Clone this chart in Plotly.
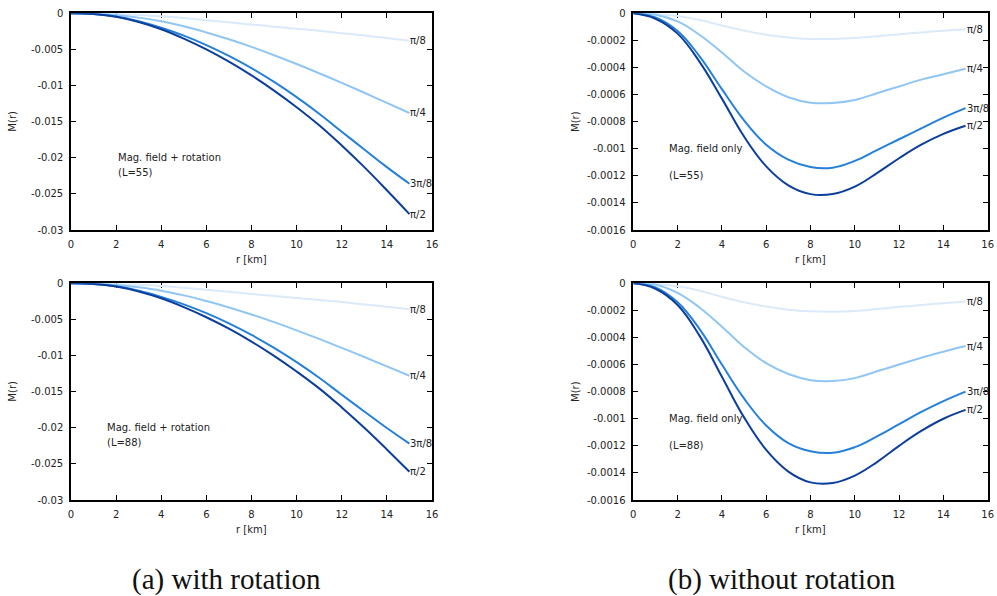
import plotly.graph_objects as go

# Radial grid [km]
r_km = [0, 1, 2, 3, 4, 5, 6, 7, 8, 9, 10, 11, 12, 13, 14, 15]

angle_labels = ["π/8", "π/4", "3π/8", "π/2"]
line_colors = ["#dbeafa", "#90c6f5", "#2580da", "#0c3f9c"]

# (a) with rotation, L=55
rot_L55_pi8 = [0, -0.00002, -0.0001, -0.00022, -0.0004, -0.00066, -0.00095, -0.00125, -0.00155, -0.00185, -0.00215, -0.00243, -0.00275, -0.00308, -0.00343, -0.0038]
rot_L55_pi4 = [0, -0.00005, -0.00025, -0.0006, -0.0011, -0.0018, -0.00265, -0.0036, -0.00465, -0.0058, -0.00702, -0.0083, -0.00963, -0.011, -0.0124, -0.0138]
rot_L55_3pi8 = [0, -0.0001, -0.00045, -0.0011, -0.002, -0.0031, -0.0044, -0.0059, -0.0076, -0.0095, -0.0116, -0.0139, -0.0164, -0.01885, -0.0213, -0.0236]
rot_L55_pi2 = [0, -0.0001, -0.00048, -0.0012, -0.0022, -0.0035, -0.005, -0.0067, -0.0086, -0.0107, -0.013, -0.0155, -0.0183, -0.0213, -0.0245, -0.0278]

# (a) with rotation, L=88
rot_L88_pi8 = [0, -0.00002, -0.000095, -0.00021, -0.00038, -0.000625, -0.0009, -0.00118, -0.00147, -0.00175, -0.00204, -0.0023, -0.0026, -0.00292, -0.00325, -0.0036]
rot_L88_pi4 = [0, -0.00005, -0.00023, -0.00056, -0.00102, -0.00167, -0.00246, -0.00334, -0.00432, -0.00538, -0.00651, -0.0077, -0.00894, -0.01021, -0.01151, -0.0128]
rot_L88_3pi8 = [0, -0.000094, -0.00042, -0.00104, -0.00188, -0.00292, -0.00414, -0.00555, -0.00715, -0.00894, -0.01092, -0.01308, -0.01543, -0.01774, -0.02004, -0.0222]
rot_L88_pi2 = [0, -0.000094, -0.00045, -0.00113, -0.00207, -0.00329, -0.0047, -0.00629, -0.00808, -0.01005, -0.01221, -0.01455, -0.01718, -0.02, -0.023, -0.0261]

# (b) magnetic field only, L=55
mag_L55_pi8 = [0, -0.000005, -0.00002, -0.00005, -0.00009, -0.000128, -0.000158, -0.000178, -0.000189, -0.00019, -0.000183, -0.00017, -0.000155, -0.000141, -0.000129, -0.000118]
mag_L55_pi4 = [0, -0.00001, -0.00006, -0.00016, -0.00029, -0.00043, -0.00054, -0.00062, -0.00066, -0.000662, -0.00064, -0.00059, -0.00054, -0.00049, -0.00045, -0.00041]
mag_L55_3pi8 = [0, -0.00003, -0.00013, -0.00032, -0.00056, -0.00079, -0.00097, -0.00108, -0.001135, -0.00114, -0.00109, -0.00101, -0.00093, -0.00085, -0.00077, -0.0007]
mag_L55_pi2 = [0, -0.00004, -0.00015, -0.00036, -0.00063, -0.00091, -0.00113, -0.00127, -0.001335, -0.001335, -0.00128, -0.00118, -0.00107, -0.00097, -0.00089, -0.00083]

# (b) magnetic field only, L=88
mag_L88_pi8 = [0, -0.000005, -0.000022, -0.000055, -0.0001, -0.00014, -0.000172, -0.000195, -0.000207, -0.00021, -0.000204, -0.00019, -0.000174, -0.00016, -0.000147, -0.000135]
mag_L88_pi4 = [0, -0.00001, -0.00007, -0.00018, -0.00032, -0.00047, -0.00059, -0.00067, -0.000715, -0.000722, -0.0007, -0.00065, -0.0006, -0.00055, -0.000505, -0.000463]
mag_L88_3pi8 = [0, -0.00003, -0.00014, -0.00034, -0.0006, -0.00085, -0.00105, -0.00118, -0.00124, -0.001252, -0.00121, -0.00113, -0.00104, -0.00095, -0.00087, -0.0008]
mag_L88_pi2 = [0, -0.00004, -0.00016, -0.00039, -0.00069, -0.00099, -0.00123, -0.00139, -0.00147, -0.001475, -0.00142, -0.00132, -0.0012, -0.00109, -0.001, -0.000935]

x_tickvals = [0, 2, 4, 6, 8, 10, 12, 14, 16]
x_ticktext = ["0", "2", "4", "6", "8", "10", "12", "14", "16"]
y_rot_tickvals = [0, -0.005, -0.01, -0.015, -0.02, -0.025, -0.03]
y_rot_ticktext = ["0", "-0.005", "-0.01", "-0.015", "-0.02", "-0.025", "-0.03"]
y_mag_tickvals = [0, -0.0002, -0.0004, -0.0006, -0.0008, -0.001, -0.0012, -0.0014, -0.0016]
y_mag_ticktext = ["0", "-0.0002", "-0.0004", "-0.0006", "-0.0008", "-0.001", "-0.0012", "-0.0014", "-0.0016"]

W, H = 997, 596
SANS = "DejaVu Sans"
TXT = "#222222"

# panel geometry in pixels: (left, right, top, bottom)
panels = [
    dict(px=(71, 432, 13.3, 230), series=[rot_L55_pi8, rot_L55_pi4, rot_L55_3pi8, rot_L55_pi2],
         yr=[-0.03, 0], tv=y_rot_tickvals, tt=y_rot_ticktext,
         note=("Mag. field + rotation", "(L=55)"), note_x=2.0, note_y=(-0.02, -0.0221)),
    dict(px=(633.3, 987.7, 13.3, 230), series=[mag_L55_pi8, mag_L55_pi4, mag_L55_3pi8, mag_L55_pi2],
         yr=[-0.0016, 0], tv=y_mag_tickvals, tt=y_mag_ticktext,
         note=("Mag. field only", "(L=55)"), note_x=1.5, note_y=(-0.001, -0.0012)),
    dict(px=(71, 432, 283.3, 500), series=[rot_L88_pi8, rot_L88_pi4, rot_L88_3pi8, rot_L88_pi2],
         yr=[-0.03, 0], tv=y_rot_tickvals, tt=y_rot_ticktext,
         note=("Mag. field + rotation", "(L=88)"), note_x=1.5, note_y=(-0.02, -0.0221)),
    dict(px=(633.3, 987.7, 283.3, 500), series=[mag_L88_pi8, mag_L88_pi4, mag_L88_3pi8, mag_L88_pi2],
         yr=[-0.0016, 0], tv=y_mag_tickvals, tt=y_mag_ticktext,
         note=("Mag. field only", "(L=88)"), note_x=1.5, note_y=(-0.001, -0.0012)),
]

fig = go.Figure()
annotations = []
layout = {}

for i, p in enumerate(panels, start=1):
    xa = "x" if i == 1 else f"x{i}"
    ya = "y" if i == 1 else f"y{i}"
    left, right, top, bottom = p["px"]
    axis_common = dict(
        showline=True, linecolor="black", linewidth=1.5, mirror="ticks",
        ticks="inside", ticklen=5, tickwidth=1, tickcolor="black",
        showgrid=False, zeroline=False, layer="below traces", automargin=False,
        tickfont=dict(family=SANS, size=10, color=TXT),
    )
    layout["xaxis" if i == 1 else f"xaxis{i}"] = dict(
        axis_common, domain=[left / W, right / W], range=[0, 16],
        tickvals=x_tickvals, ticktext=x_ticktext, anchor=ya, ticklabelstandoff=4,
    )
    layout["yaxis" if i == 1 else f"yaxis{i}"] = dict(
        axis_common, domain=[1 - bottom / H, 1 - top / H], range=p["yr"],
        tickvals=p["tv"], ticktext=p["tt"], anchor=xa, ticklabelstandoff=4,
    )

    for vals, lab, col in zip(p["series"], angle_labels, line_colors):
        fig.add_trace(go.Scatter(
            x=r_km, y=vals, mode="lines", xaxis=xa, yaxis=ya,
            line=dict(color=col, width=2, shape="spline", smoothing=1.2),
            showlegend=False, hoverinfo="skip",
        ))
        annotations.append(dict(
            x=r_km[-1], y=vals[-1], xref=xa, yref=ya, text=lab, showarrow=False,
            xanchor="left", yanchor="middle", xshift=-1,
            font=dict(family=SANS, size=10, color=TXT),
        ))

    for txt, yv in zip(p["note"], p["note_y"]):
        annotations.append(dict(
            x=p["note_x"], y=yv, xref=xa, yref=ya, text=txt, showarrow=False,
            xanchor="left", yanchor="middle",
            font=dict(family=SANS, size=10, color=TXT),
        ))

    # axis titles
    annotations.append(dict(
        x=(left - 58) / W, y=1 - (top + bottom) / 2 / H, xref="paper", yref="paper",
        text="M(r)", textangle=-90, showarrow=False, xanchor="center", yanchor="middle",
        font=dict(family=SANS, size=10, color=TXT),
    ))
    annotations.append(dict(
        x=(left + right) / 2 / W, y=1 - (bottom + 29) / H, xref="paper", yref="paper",
        text="r [km]", showarrow=False, xanchor="center", yanchor="middle",
        font=dict(family=SANS, size=10, color=TXT),
    ))

# sub-figure captions
for txt, cx in [("(a) with rotation", 226), ("(b) without rotation", 782)]:
    annotations.append(dict(
        x=cx / W, y=1 - 579 / H, xref="paper", yref="paper", text=txt, showarrow=False,
        xanchor="center", yanchor="middle",
        font=dict(family="Liberation Serif", size=29, color="#111111"),
    ))

fig.update_layout(
    width=W, height=H, margin=dict(l=0, r=0, t=0, b=0, autoexpand=False),
    paper_bgcolor="white", plot_bgcolor="white",
    annotations=annotations, **layout,
)

fig.write_html("out.html")
